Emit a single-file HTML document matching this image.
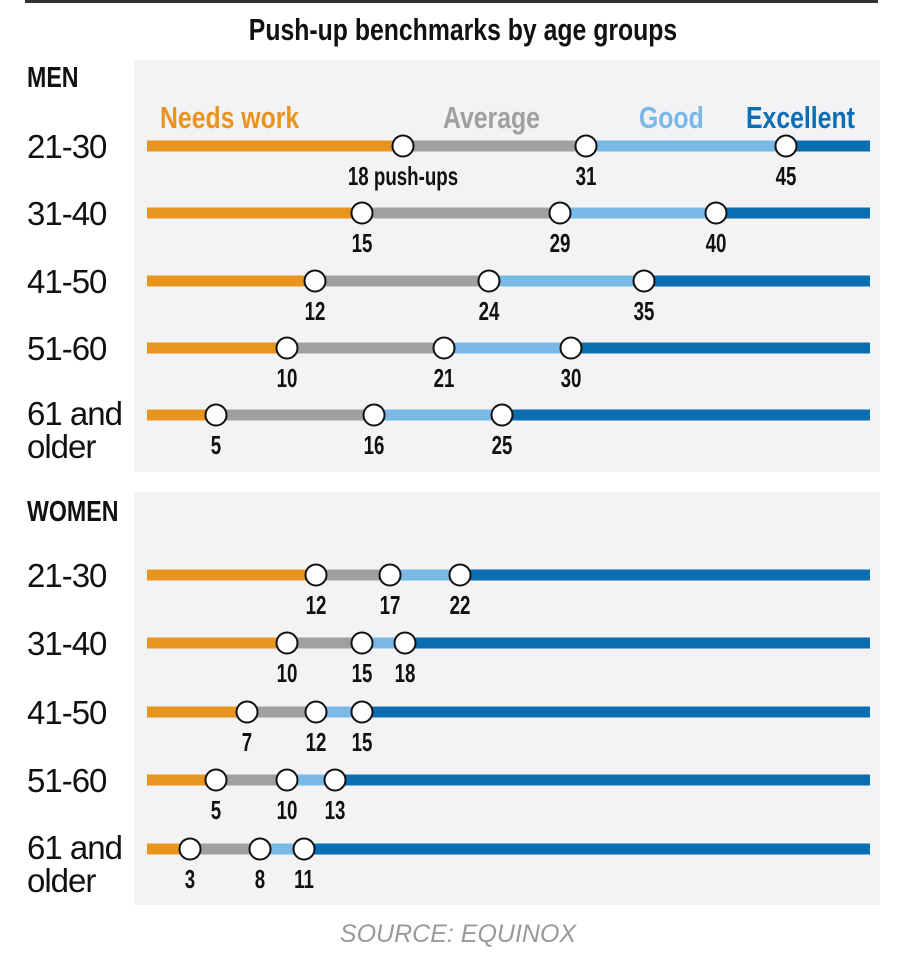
<!DOCTYPE html>
<html><head><meta charset="utf-8"><style>
html,body{margin:0;padding:0;background:#fff;}
svg{display:block;}
.age{font-family:"Liberation Sans",sans-serif;font-size:33px;fill:#111;letter-spacing:-1px;}
.num{font-family:"Liberation Sans",sans-serif;font-weight:bold;font-size:26px;fill:#111;text-anchor:middle;}
.hd{font-family:"Liberation Sans",sans-serif;font-weight:bold;font-size:29px;fill:#111;}
.lg{font-family:"Liberation Sans",sans-serif;font-weight:bold;font-size:31px;}
</style></head><body>
<svg width="902" height="960" viewBox="0 0 902 960" xmlns="http://www.w3.org/2000/svg">
<rect x="25" y="0" width="853" height="3" fill="#333"/>
<text transform="translate(463,40) scale(0.8,1)" text-anchor="middle" class="hd" style="font-size:31px">Push-up benchmarks by age groups</text>
<rect x="134" y="60" width="746" height="412" fill="#f3f3f6"/>
<rect x="134" y="492" width="746" height="413" fill="#f3f3f6"/>
<text transform="translate(27,87) scale(0.8,1)" class="hd">MEN</text>
<text transform="translate(27,521) scale(0.8,1)" class="hd">WOMEN</text>
<text transform="translate(160,128) scale(0.8,1)" class="lg" fill="#e8951f">Needs work</text>
<text transform="translate(443,128) scale(0.8,1)" class="lg" fill="#a0a0a0">Average</text>
<text transform="translate(639,128) scale(0.8,1)" class="lg" fill="#7ab8e6">Good</text>
<text transform="translate(746,128) scale(0.8,1)" class="lg" fill="#0a6eb0">Excellent</text>
<g id="rows"></g>
<text x="458" y="942" text-anchor="middle" font-family="Liberation Sans,sans-serif" font-style="italic" font-size="25" fill="#999">SOURCE: EQUINOX</text>
</svg>
<script>
var rows=[
[146,"21-30",null,[403,586,786],["18 push-ups","31","45"]],
[213,"31-40",null,[362,560,716],["15","29","40"]],
[281,"41-50",null,[315,489,644],["12","24","35"]],
[348,"51-60",null,[287,444,571],["10","21","30"]],
[415,"61 and","older",[216,374,502],["5","16","25"]],
[575,"21-30",null,[316,390,460],["12","17","22"]],
[643,"31-40",null,[287,362,405],["10","15","18"]],
[712,"41-50",null,[247,316,362],["7","12","15"]],
[780,"51-60",null,[216,287,335],["5","10","13"]],
[849,"61 and","older",[190,260,304],["3","8","11"]]];
var cols=["#e8951f","#a0a0a0","#7ab8e6","#0a6eb0"];
var s="";
rows.forEach(function(r){
 var y=r[0],xs=[147].concat(r[3]).concat([870]);
 if(r[2]){s+='<text x="27" y="'+(y+10)+'" class="age">'+r[1]+'</text><text x="27" y="'+(y+43)+'" class="age">'+r[2]+'</text>';}
 else s+='<text x="27" y="'+(y+12)+'" class="age">'+r[1]+'</text>';
 for(var i=0;i<4;i++)s+='<rect x="'+xs[i]+'" y="'+(y-5.5)+'" width="'+(xs[i+1]-xs[i])+'" height="11" fill="'+cols[i]+'"/>';
 for(var i=0;i<3;i++){s+='<circle cx="'+r[3][i]+'" cy="'+y+'" r="10.5" fill="#fff" stroke="#111" stroke-width="2"/>';
  s+='<text transform="translate('+r[3][i]+','+(y+39)+') scale(0.72,1)" class="num">'+r[4][i]+'</text>';}
});
document.getElementById("rows").innerHTML=s;
</script>
</body></html>
